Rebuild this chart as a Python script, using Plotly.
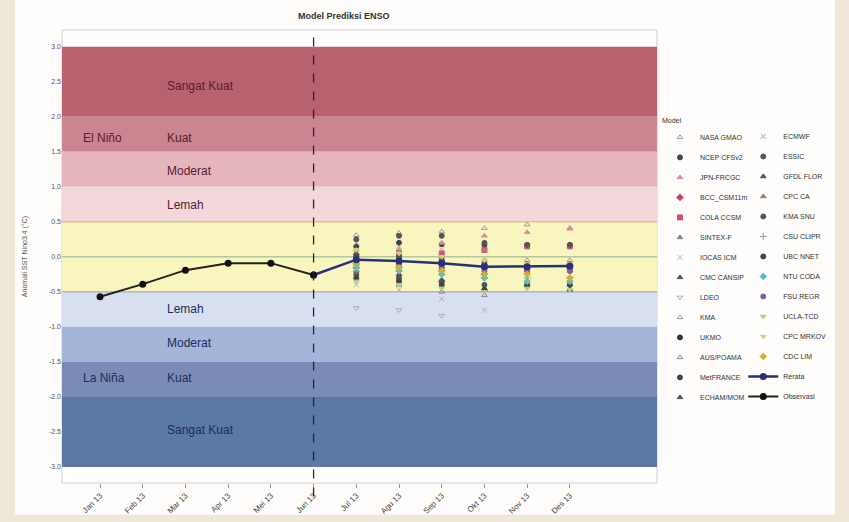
import plotly.graph_objects as go

# ---------------- data ----------------
months = ["Jan 13", "Feb 13", "Mar 13", "Apr 13", "Mei 13", "Jun 13",
          "Jul 13", "Agu 13", "Sep 13", "Okt 13", "Nov 13", "Des 13"]
obs_idx = [0, 1, 2, 3, 4, 5]
fc_idx = [6, 7, 8, 9, 10, 11]

observasi = [-0.57, -0.39, -0.19, -0.09, -0.09, -0.26]
rerata = [-0.26, -0.04, -0.06, -0.09, -0.14, -0.14, -0.13]   # starts at last observation

# left legend column
left_names = ["NASA GMAO", "NCEP CFSv2", "JPN-FRCGC", "BCC_CSM11m", "COLA CCSM",
              "SINTEX-F", "IOCAS ICM", "CMC CANSIP", "LDEO", "KMA", "UKMO",
              "AUS/POAMA", "MetFRANCE", "ECHAM/MOM"]
left_values = [
    [0.31, 0.34, 0.36, 0.41, 0.46, 0.41],
    [0.15, 0.20, 0.18, 0.17, 0.17, 0.17],
    [0.05, 0.10, 0.20, 0.30, 0.35, 0.40],
    [-0.10, -0.15, -0.20, -0.25, None, None],
    [0.00, 0.05, 0.05, 0.10, 0.15, 0.15],
    [-0.20, -0.30, -0.35, -0.45, -0.40, -0.47],
    [-0.40, -0.47, -0.60, -0.76, None, None],
    [-0.05, -0.10, -0.10, -0.15, -0.15, -0.15],
    [-0.73, -0.76, -0.84, None, None, None],
    [0.10, 0.05, 0.00, -0.05, -0.05, -0.05],
    [-0.05, -0.05, -0.10, -0.15, -0.20, -0.20],
    [-0.30, -0.40, -0.50, -0.55, -0.40, -0.40],
    [0.00, 0.00, -0.05, -0.10, -0.15, -0.15],
    [-0.15, -0.25, -0.33, -0.47, -0.40, -0.47],
]
left_symbols = ["triangle-up-open", "circle", "triangle-up", "diamond", "square",
                "triangle-up", "x-thin-open", "triangle-up", "triangle-down-open",
                "triangle-up-open", "circle", "triangle-up-open", "circle", "triangle-up"]
left_colors = ["#9a9a9a", "#444444", "#e08aa0", "#c84060", "#d05070",
               "#888888", "#b0b0b0", "#555555", "#b0b0b0",
               "#9a9a9a", "#333333", "#888888", "#444444", "#555555"]

# right legend column (models)
right_names = ["ECMWF", "ESSIC", "GFDL FLOR", "CPC CA", "KMA SNU", "CSU CLIPR",
               "UBC NNET", "NTU CODA", "FSU REGR", "UCLA-TCD", "CPC MRKOV", "CDC LIM"]
right_values = [
    [0.20, 0.15, 0.10, 0.10, 0.15, 0.15],
    [-0.25, -0.30, -0.35, -0.40, None, None],
    [0.05, 0.00, -0.05, -0.10, -0.10, -0.10],
    [-0.10, -0.10, -0.15, -0.15, -0.15, -0.15],
    [0.25, 0.30, 0.30, 0.20, 0.17, 0.17],
    [-0.20, -0.20, -0.25, -0.30, -0.30, -0.30],
    [-0.30, -0.35, -0.40, -0.47, -0.40, -0.40],
    [-0.15, -0.20, -0.25, -0.30, -0.35, -0.35],
    [-0.05, -0.10, -0.15, -0.20, -0.20, -0.20],
    [-0.35, -0.40, -0.45, -0.50, -0.45, -0.47],
    [0.10, 0.05, 0.00, -0.05, -0.10, -0.10],
    [-0.10, -0.15, -0.20, -0.25, -0.25, -0.30],
]
right_symbols = ["x-thin-open", "circle", "triangle-up", "triangle-up", "circle", "cross-thin-open",
                 "circle", "diamond", "circle", "triangle-down", "triangle-down", "diamond"]
right_colors = ["#a0a0a0", "#555555", "#555555", "#a07a7a", "#555555", "#999999",
                "#444444", "#5bc0c0", "#8060a0", "#b0d090", "#d0d070", "#d0b030"]

# ENSO category bands (lower, upper, colour)
band_lo = [2.0, 1.5, 1.0, 0.5, -0.5, -1.0, -1.5, -2.0, -3.0]
band_hi = [3.0, 2.0, 1.5, 1.0, 0.5, -0.5, -1.0, -1.5, -2.0]
band_col = ["#b9626f", "#ca8591", "#e5b5bc", "#f2d8db", "#f9f5bf",
            "#d8dff0", "#a5b4d9", "#7a8cb6", "#5c78a5"]

band_labels = ["Sangat Kuat", "Kuat", "Moderat", "Lemah",
               "Lemah", "Moderat", "Kuat", "Sangat Kuat"]
band_label_y = [2.44, 1.70, 1.23, 0.74, -0.74, -1.23, -1.73, -2.47]
phase_labels = ["El Niño", "La Niña"]
phase_label_y = [1.70, -1.73]

y_ticks = [3.0, 2.5, 2.0, 1.5, 1.0, 0.5, 0.0, -0.5, -1.0, -1.5, -2.0, -2.5, -3.0]

# ---------------- figure ----------------
fig = go.Figure()

shapes = []
# white page frame over the beige surround
shapes.append(dict(type="rect", xref="paper", yref="paper", x0=-0.079, x1=1.299,
                   y0=-0.07, y1=1.07, fillcolor="#fefdfb", line=dict(width=0), layer="below"))
shapes.append(dict(type="rect", xref="paper", yref="paper", x0=0, x1=1, y0=0, y1=1,
                   fillcolor="#ffffff", line=dict(color="#cfcfcf", width=1), layer="below"))
for lo, hi, c in zip(band_lo, band_hi, band_col):
    shapes.append(dict(type="rect", xref="paper", yref="y", x0=0, x1=1, y0=lo, y1=hi,
                       fillcolor=c, line=dict(width=0), layer="below"))
for yv, c in [(0.5, "#c8b070"), (0.0, "#8fb08a"), (-0.5, "#9a9aa8")]:
    shapes.append(dict(type="line", xref="paper", yref="y", x0=0, x1=1, y0=yv, y1=yv,
                       line=dict(color=c, width=1), layer="below"))
shapes.append(dict(type="line", xref="x", yref="paper", x0=5, x1=5, y0=-0.03, y1=1,
                   line=dict(color="#222244", width=1.3, dash="dash")))

# model forecasts
for name, vals, sym, col in zip(left_names, left_values, left_symbols, left_colors):
    fig.add_trace(go.Scatter(
        x=fc_idx, y=vals, mode="markers", name=name, legend="legend", legendgroup=name,
        marker=dict(symbol=sym, size=5, color=col, line=dict(color=col, width=1)),
    ))
for name, vals, sym, col in zip(right_names, right_values, right_symbols, right_colors):
    fig.add_trace(go.Scatter(
        x=fc_idx, y=vals, mode="markers", name=name, legend="legend2", legendgroup=name,
        marker=dict(symbol=sym, size=5, color=col, line=dict(color=col, width=1)),
    ))

fig.add_trace(go.Scatter(
    x=[5] + fc_idx, y=rerata, mode="lines+markers", name="Rerata", legend="legend2",
    legendgroup="Rerata",
    line=dict(color="#2b2f7a", width=2.5),
    marker=dict(symbol="circle", size=7, color="#2b2f7a"),
))
fig.add_trace(go.Scatter(
    x=obs_idx, y=observasi, mode="lines+markers", name="Observasi", legend="legend2",
    legendgroup="Observasi",
    line=dict(color="#1f2418", width=2),
    marker=dict(symbol="circle", size=7, color="#111111"),
))

annotations = []
for t, yv in zip(band_labels, band_label_y):
    col = "#5a1a30" if yv > 0 else "#1c2c5c"
    annotations.append(dict(x=1.52, y=yv, xref="x", yref="y", text=t, showarrow=False,
                            xanchor="left", font=dict(size=12, color=col,
                                                      family="Liberation Sans, Arial")))
for t, yv in zip(phase_labels, phase_label_y):
    col = "#5a1a30" if yv > 0 else "#1c2c5c"
    annotations.append(dict(x=-0.45, y=yv, xref="x", yref="y", text=t, showarrow=False,
                            xanchor="left", font=dict(size=12, color=col,
                                                      family="Liberation Sans, Arial")))

legend_font = dict(size=7, color="#333", family="Liberation Sans, Arial")
fig.update_layout(
    width=849, height=522,
    margin=dict(l=62, r=192, t=30, b=39, autoexpand=False),
    paper_bgcolor="#efe7d8",
    plot_bgcolor="#ffffff",
    title=dict(text="<b>Model Prediksi ENSO</b>", x=0.405, xanchor="center", y=0.975,
               font=dict(size=9, color="#333333", family="Liberation Sans, Arial")),
    shapes=shapes,
    annotations=annotations,
    showlegend=True,
    legend=dict(
        title=dict(text="Model", font=dict(size=7, color="#333")),
        orientation="v", x=1.005, xanchor="left", y=0.815, yanchor="top",
        font=legend_font, tracegroupgap=1, bgcolor="rgba(0,0,0,0)",
    ),
    legend2=dict(
        orientation="v", x=1.145, xanchor="left", y=0.797, yanchor="top",
        font=legend_font, tracegroupgap=1, bgcolor="rgba(0,0,0,0)",
    ),
    font=dict(family="Liberation Sans, Arial", color="#555"),
)

fig.update_xaxes(
    range=[-0.89, 13.04], tickmode="array", tickvals=list(range(12)), ticktext=months,
    tickangle=-45, tickfont=dict(size=8, color="#444"), showgrid=False, zeroline=False,
    ticks="outside", ticklen=4, tickcolor="#999", showline=False,
)
fig.update_yaxes(
    range=[-3.23, 3.24], tickmode="array", tickvals=y_ticks,
    ticktext=[f"{v:.1f}" for v in y_ticks], tickfont=dict(size=7, color="#555"),
    showgrid=False, zeroline=False, showline=False,
    title=dict(text="Anomali SST Nino3.4 (°C)", font=dict(size=7, color="#555"), standoff=20),
)

fig.write_html("out.html")
